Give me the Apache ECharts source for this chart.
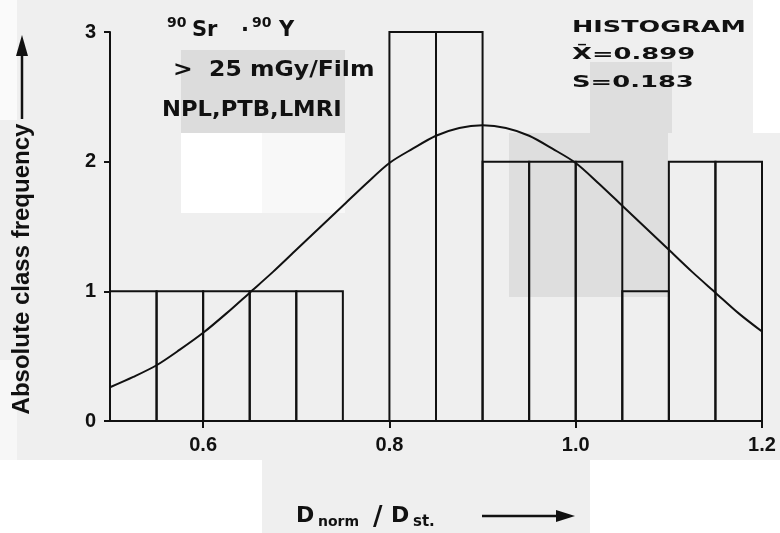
<!DOCTYPE html>
<html>
<head>
<meta charset="utf-8">
<script src="https://cdn.jsdelivr.net/npm/echarts/dist/echarts.min.js"></script>
<style>
  html, body { margin: 0; padding: 0; background: #efefef; }
  #chart { width: 780px; height: 533px; }
</style>
</head>
<body>
<div id="chart"></div>
<script>
// ---- data ----
const binEdges = [0.5, 0.55, 0.6, 0.65, 0.7, 0.75, 0.8, 0.85, 0.9, 0.95, 1.0, 1.05, 1.1, 1.15, 1.2];
const counts   = [1, 1, 1, 1, 1, 0, 3, 3, 2, 2, 2, 1, 2, 2];
const curveX = [0.5, 0.525, 0.55, 0.575, 0.6, 0.625, 0.65, 0.675, 0.7, 0.725, 0.75, 0.775, 0.8, 0.825, 0.85, 0.875,
                0.9, 0.925, 0.95, 0.975, 1.0, 1.025, 1.05, 1.075, 1.1, 1.125, 1.15, 1.175, 1.2];
const curveY = [0.26, 0.34, 0.43, 0.55, 0.68, 0.83, 0.99, 1.15, 1.32, 1.49, 1.66, 1.83, 1.99, 2.10, 2.20, 2.26,
                2.28, 2.26, 2.20, 2.10, 1.99, 1.83, 1.66, 1.49, 1.32, 1.15, 0.99, 0.83, 0.69];
const xTickValues = [0.6, 0.8, 1.0, 1.2];
const yTickValues = [0, 1, 2, 3];

const binData = counts.map((c, i) => [binEdges[i], binEdges[i + 1], c]);
const curveData = curveX.map((x, i) => [x, curveY[i]]);

const INK = '#111';
const chart = echarts.init(document.getElementById('chart'), null, { renderer: 'canvas' });

function rect(x, y, w, h, fill) {
  return { type: 'rect', z: -100, silent: true, shape: { x, y, width: w, height: h }, style: { fill } };
}
function txt(x, y, text, font, extra) {
  return Object.assign({ type: 'text', z: 50, x, y,
    style: { text, font, fill: INK, textAlign: 'left', textVerticalAlign: 'middle' } }, extra || {});
}

const option = {
  backgroundColor: '#efefef',
  animation: false,
  grid: { left: 110, right: 18, top: 32, bottom: 112 },
  xAxis: {
    type: 'value', min: 0.5, max: 1.2,
    splitLine: { show: false },
    axisLine: { show: true, onZero: false, lineStyle: { color: INK, width: 2 } },
    axisTick: { show: true, customValues: xTickValues, length: 7, lineStyle: { color: INK, width: 2 } },
    axisLabel: { customValues: xTickValues, formatter: v => v.toFixed(1), margin: 14,
      color: INK, fontFamily: 'Liberation Sans', fontWeight: 'bold', fontSize: 20 }
  },
  yAxis: {
    type: 'value', min: 0, max: 3, interval: 1,
    splitLine: { show: false },
    axisLine: { show: true, lineStyle: { color: INK, width: 2 } },
    axisTick: { show: true, length: 6, lineStyle: { color: INK, width: 2 } },
    axisLabel: { margin: 14, color: INK, fontFamily: 'Liberation Sans', fontWeight: 'bold', fontSize: 20,
      formatter: v => (yTickValues.indexOf(v) >= 0 ? String(v) : '') }
  },
  series: [
    {
      type: 'custom',
      data: binData,
      encode: { x: [0, 1], y: 2 },
      clip: false,
      renderItem: function (params, api) {
        const lo = api.value(0), hi = api.value(1), c = api.value(2);
        if (!c) return null;
        const p0 = api.coord([lo, c]);
        const p1 = api.coord([hi, 0]);
        return {
          type: 'rect',
          shape: { x: p0[0], y: p0[1], width: p1[0] - p0[0], height: p1[1] - p0[1] },
          style: { fill: 'none', stroke: INK, lineWidth: 2 }
        };
      }
    },
    {
      type: 'line',
      data: curveData,
      smooth: 0.3,
      symbol: 'none',
      clip: false,
      lineStyle: { color: INK, width: 2 },
      z: 3
    }
  ],
  graphic: [
    // scan background patches
    rect(0, 460, 262, 73, '#ffffff'),
    rect(590, 460, 190, 73, '#ffffff'),
    rect(0, 0, 17, 120, '#fafafa'),
    rect(0, 360, 17, 100, '#f7f7f7'),
    rect(181, 50, 164, 83, '#dcdcdc'),
    rect(181, 133, 81, 80, '#ffffff'),
    rect(262, 133, 83, 80, '#f8f8f8'),
    rect(753, 0, 27, 133, '#ffffff'),
    rect(590, 62, 82, 71, '#dedede'),
    rect(509, 133, 159, 164, '#dedede'),

    // top-left annotation
    txt(167, 23, '90', 'bold 14px "DejaVu Sans"'),
    txt(192, 31, 'Sr', 'bold 21px "DejaVu Sans"'),
    txt(241, 31, '·', 'bold 21px "DejaVu Sans"'),
    txt(252, 23, '90', 'bold 14px "DejaVu Sans"'),
    txt(279, 31, 'Y', 'bold 21px "DejaVu Sans"'),
    txt(173, 71, '>  25 mGy/Film', 'bold 21px "DejaVu Sans"', { scaleX: 1.12 }),
    txt(162, 111, 'NPL,PTB,LMRI', 'bold 21px "DejaVu Sans"', { scaleX: 1.08 }),

    // top-right annotation
    txt(572, 28, 'HISTOGRAM', 'bold 15px "DejaVu Sans"', { scaleX: 1.7 }),
    txt(572, 55, 'X\u0304=0.899', 'bold 15px "DejaVu Sans"', { scaleX: 1.72 }),
    txt(572, 83, 'S=0.183', 'bold 15px "DejaVu Sans"', { scaleX: 1.72 }),

    // y-axis title with arrow
    { type: 'text', z: 50, x: 22, y: 269, rotation: Math.PI / 2,
      style: { text: 'Absolute class frequency', font: 'bold 24px "Liberation Sans"', fill: INK,
        textAlign: 'center', textVerticalAlign: 'middle' } },
    { type: 'line', z: 50, shape: { x1: 22, y1: 119, x2: 22, y2: 52 }, style: { stroke: INK, lineWidth: 2.5 } },
    { type: 'polygon', z: 50, shape: { points: [[16, 56], [22, 35], [28, 56]] }, style: { fill: INK } },

    // x-axis title with arrow
    txt(296, 516, 'D', 'bold 22px "DejaVu Sans"'),
    txt(318, 522, 'norm', 'bold 14px "DejaVu Sans"'),
    txt(373, 518, '/', 'bold 26px "DejaVu Sans"'),
    txt(391, 516, 'D', 'bold 22px "DejaVu Sans"'),
    txt(413, 522, 'st.', 'bold 15px "DejaVu Sans"'),
    { type: 'line', z: 50, shape: { x1: 482, y1: 516, x2: 558, y2: 516 }, style: { stroke: INK, lineWidth: 2.5 } },
    { type: 'polygon', z: 50, shape: { points: [[556, 510], [575, 516], [556, 522]] }, style: { fill: INK } }
  ]
};
chart.setOption(option);
</script>
</body>
</html>
